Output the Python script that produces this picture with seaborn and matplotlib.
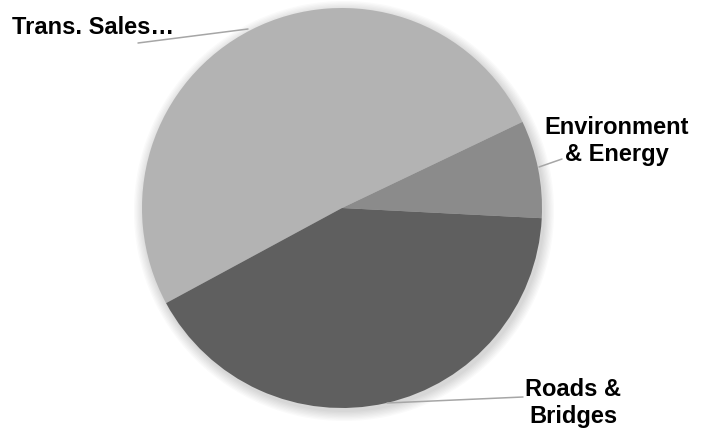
import matplotlib
matplotlib.use("Agg")
import matplotlib.pyplot as plt
import seaborn as sns
from matplotlib.patches import Circle

# Data
categories = ["Trans. Sales\u2026", "Environment\n& Energy", "Roads &\nBridges"]
shares = [50.8, 7.9, 41.3]
slice_colors = ["#b3b3b3", "#8b8b8b", "#5f5f5f"]

sns.set_theme(style="white")
plt.rcParams["font.family"] = ["Liberation Sans", "DejaVu Sans"]

fig = plt.figure(figsize=(7.06, 4.34), dpi=100)
ax = fig.add_axes([0, 0, 1, 1])

cx, cy, r = 342, 226, 200

# soft shadow behind the pie
for i in range(8):
    ax.add_patch(Circle((cx + 2, cy - 3), r + 1 + i * 1.3, color="black",
                        alpha=0.018, lw=0, zorder=0))

ax.pie(shares, colors=slice_colors, startangle=208.4, counterclock=False,
       center=(cx, cy), radius=r, frame=True,
       wedgeprops=dict(linewidth=0, zorder=2))
ax.set_xlim(0, 706)
ax.set_ylim(0, 434)
ax.set_aspect("equal")
ax.axis("off")

# leader lines and labels
leaders = [((248, 405), (138, 391)), ((539, 267), (562, 275)), ((387, 31), (523, 37))]
label_pos = [(93, 407), (617, 293), (573, 31)]
for (p0, p1), (tx, ty), lab in zip(leaders, label_pos, categories):
    ax.plot([p0[0], p1[0]], [p0[1], p1[1]], color="#a6a6a6", lw=1.1, zorder=3)
    ax.text(tx, ty, lab, ha="center", va="center", fontsize=17,
            fontweight="bold", color="black", linespacing=1.22, zorder=4)

fig.savefig("out.png", dpi=100)
